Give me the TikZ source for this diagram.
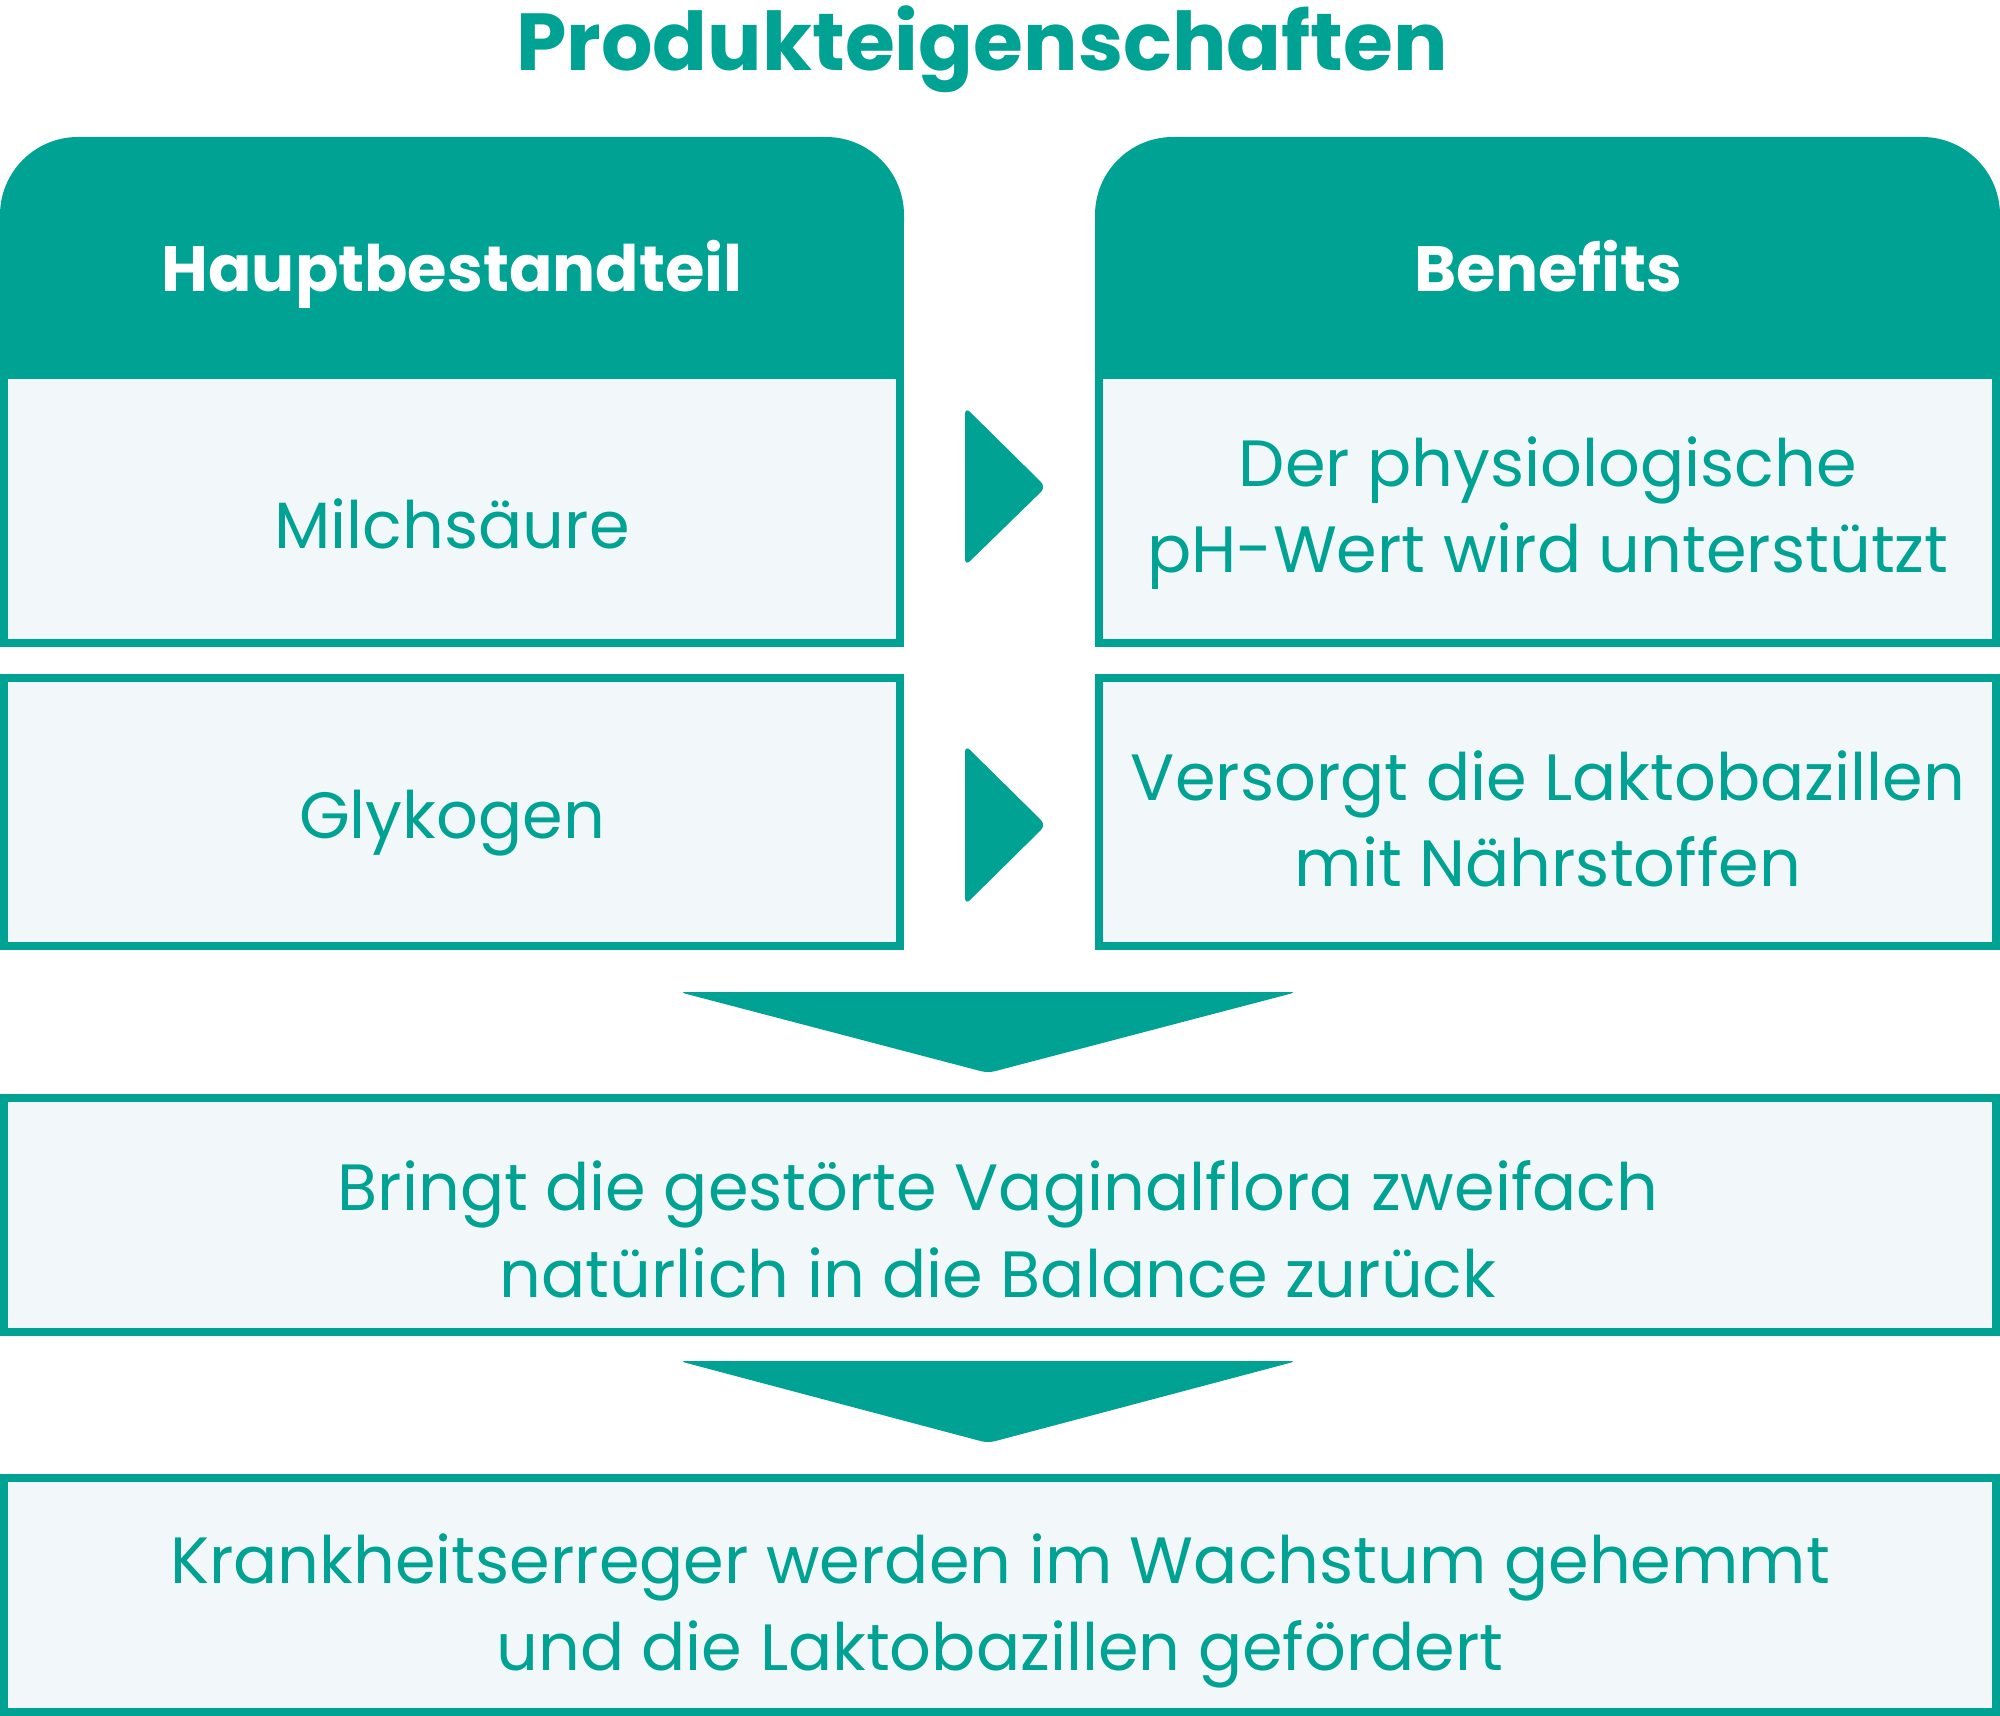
\documentclass[tikz,border=0pt]{standalone}
\usepackage{fontspec}
\setmainfont{Poppins}
\definecolor{petrol}{RGB}{0,162,148}
\definecolor{paper}{RGB}{242,247,249}

\begin{document}
\begin{tikzpicture}
  [
    x=0.01cm, y=-0.01cm,
    headbox/.style = {fill=petrol, rounded corners=0.78cm},
    cell/.style = {draw=petrol, fill=paper, line width=0.08cm},
    pointer/.style = {fill=petrol, rounded corners=0.07cm},
    heading/.style = {text=petrol, anchor=base, inner sep=0pt, font=\fontsize{23}{27}\selectfont\bfseries},
    caption/.style = {text=white, anchor=base, inner sep=0pt, font=\fontsize{18.2}{22}\selectfont\bfseries},
    body/.style = {text=petrol, anchor=base, inner sep=0pt, align=center, font=\fontsize{18.6}{24.6}\selectfont},
  ]
  \useasboundingbox (0,0) rectangle (2000,1716);

  \node[heading] (title) at (982,71) {Produkteigenschaften};

  % column heads
  \fill[headbox] (0,137) rectangle (904,300);
  \fill[petrol] (0,220) rectangle (904,379);
  \fill[headbox] (1095,137) rectangle (2000,300);
  \fill[petrol] (1095,220) rectangle (2000,379);
  \node[caption] (part) at (452,292) {Hauptbestandteil};
  \node[caption] (gain) at (1548,292) {Benefits};

  % cells
  \draw[cell] (4,375) rectangle (900,643);
  \draw[cell] (1099,375) rectangle (1996,643);
  \draw[cell] (4,678) rectangle (900,946);
  \draw[cell] (1099,678) rectangle (1996,946);
  \draw[cell] (4,1098) rectangle (1996,1332);
  \draw[cell] (4,1478) rectangle (1996,1712);

  % texts, anchored at the last baseline
  \node[body] (milch) at (452,549) {Milchsäure};
  \node[body] (glyko) at (452,839) {Glykogen};
  \node[body] (ph) at (1548,573) {Der physiologische\\pH-Wert wird unterstützt};
  \node[body] (feed) at (1548,887) {Versorgt die Laktobazillen\\mit Nährstoffen};
  \node[body] (flora) at (998,1297) {Bringt die gestörte Vaginalflora zweifach\\natürlich in die Balance zurück};
  \node[body] (guard) at (1000,1670) {Krankheitserreger werden im Wachstum gehemmt\\und die Laktobazillen gefördert};

  % arrows
  \fill[pointer] (965,407) -- (1046,487) -- (965,566) -- cycle;
  \fill[pointer] (965,745) -- (1046,825) -- (965,905) -- cycle;
  \fill[pointer] (679,992) -- (1297,992) -- (988,1073) -- cycle;
  \fill[pointer] (679,1361) -- (1297,1361) -- (988,1443) -- cycle;
\end{tikzpicture}
\end{document}
